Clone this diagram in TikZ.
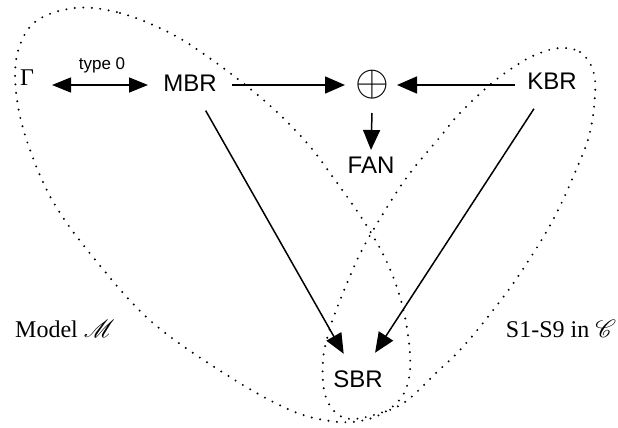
\documentclass[tikz,border=0pt]{standalone}
\usepackage{fix-cm}
\usepackage{graphicx}
\usepackage{fontspec}
\usepackage{mathrsfs}
\setmainfont{Liberation Serif}
\newfontfamily\arialf{Liberation Sans}
\usetikzlibrary{arrows.meta}
\tikzset{
  lbl/.style={font=\arialf\fontsize{24}{28}\selectfont, inner sep=0pt},
  serif/.style={font=\fontsize{24}{28}\selectfont, inner sep=0pt},
  arr/.style={line width=1.5pt, -{Triangle[length=20pt,width=17pt]}},
  dbl/.style={line width=1.5pt, {Triangle[length=19pt,width=15pt]}-{Triangle[length=19pt,width=15pt]}},
  dotloop/.style={line width=2.2pt, line cap=round, dash pattern=on 0pt off 8.5pt}
}
\begin{document}
\begin{tikzpicture}[x=1pt,y=-1pt]
\useasboundingbox (0,0) rectangle (618,428);
% nodes
\node[serif] (Gamma) at (27,78) {Γ};
\node[font=\arialf\fontsize{17}{20}\selectfont, inner sep=0pt] (type) at (102,65) {type 0};
\node[lbl] (MBR) at (190,83) {MBR};
\node[font=\fontsize{30}{32}\selectfont, inner sep=0pt] (plus) at (372,85) {\scalebox{1.45}{$\oplus$}};
\node[lbl] (KBR) at (552,81) {KBR};
\node[lbl] (FAN) at (371,165) {FAN};
\node[lbl] (SBR) at (358,379) {SBR};
\node[serif] (model) at (65,329) {Model $\mathscr{M}$};
\node[serif] (s19) at (561,329) {S1-S9 in $\mathscr{C}$};
% connectors
\draw[dbl] ([shift={(25pt,-7pt)}]Gamma.center) -- ([shift={(-42pt,-2pt)}]MBR.center);
\draw[arr] ([shift={(42pt,-2pt)}]MBR.center) -- ([xshift=-27pt]plus.center);
\draw[arr] ([shift={(-37pt,-4pt)}]KBR.center) -- ([xshift=25pt]plus.center);
\draw[arr] ([yshift=-28pt]plus.center) -- ([yshift=15pt]FAN.center);
\draw[arr, shorten <=22pt, shorten >=19pt] (MBR) -- (SBR);
\draw[arr, shorten <=23pt, shorten >=21pt] (KBR) -- (SBR);
% dotted loops
\draw[dotloop] plot[smooth cycle, tension=0.6] coordinates {
 (75,8) (120,13) (170,33) (215,62) (267,103) (307,143) (335,180) (363,220)
 (385,258) (400,297) (408,335) (410,370) (403,395) (385,412) (360,421) (330,421)
 (290,410) (230,377) (153,323) (97,262) (55,205) (30,150) (17,100) (17,55) (35,22)};
\draw[dotloop] plot[smooth cycle, tension=0.6] coordinates {
 (560,48) (580,52) (593,70) (595,95) (590,132) (579,163) (553,220) (519,275)
 (487,318) (460,350) (437,372) (405,402) (377,414) (350,419) (333,410) (324,390)
 (323,360) (328,335) (337,308) (358,258) (378,222) (407,177) (440,137) (460,113)
 (492,83) (520,63) (540,53)};
\end{tikzpicture}
\end{document}
